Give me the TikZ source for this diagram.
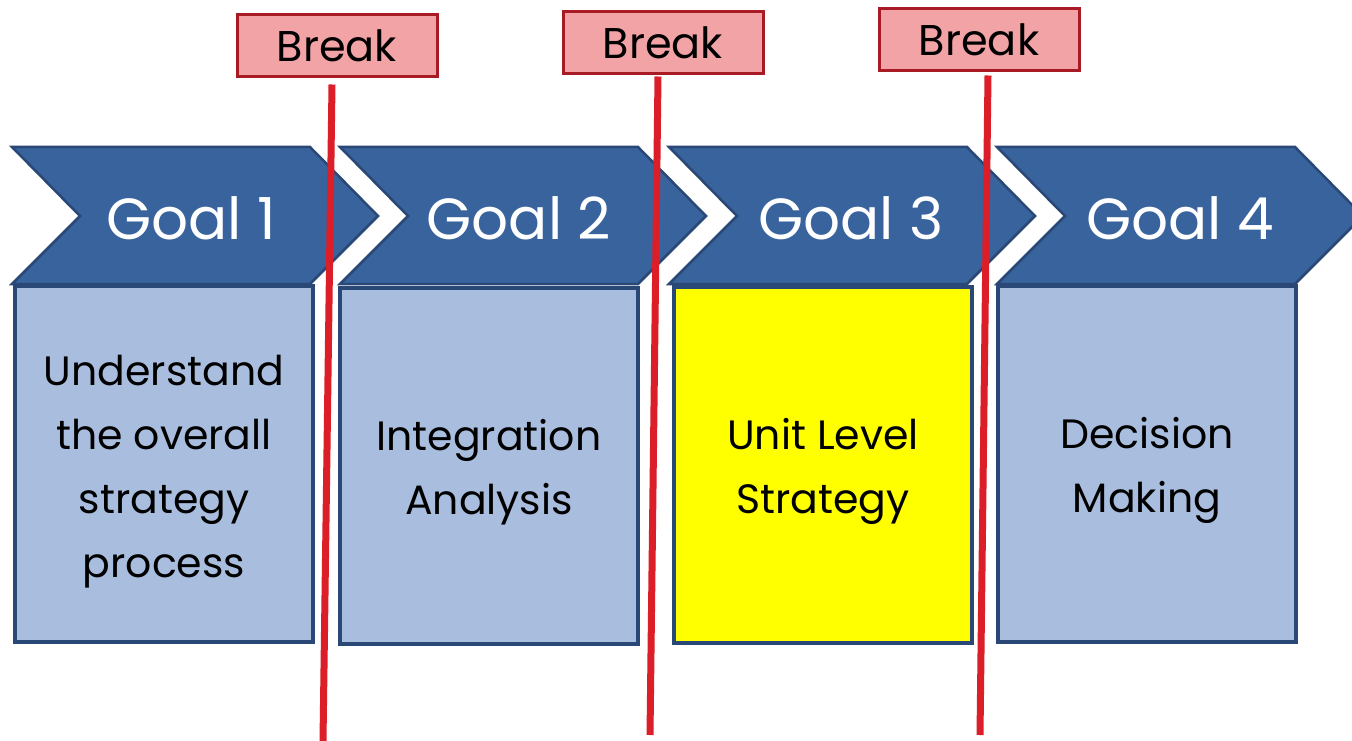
\documentclass[tikz,border=0pt]{standalone}
\usepackage{fontspec}
\setmainfont{Poppins}
\usetikzlibrary{positioning}

\definecolor{goalblue}{RGB}{57,99,157}
\definecolor{goaledge}{RGB}{42,72,117}
\definecolor{taskblue}{RGB}{169,190,222}
\definecolor{nowyellow}{RGB}{255,255,0}
\definecolor{breakfill}{RGB}{242,163,166}
\definecolor{breakedge}{RGB}{168,26,36}
\definecolor{cutred}{RGB}{220,30,40}

\begin{document}
\begin{tikzpicture}[x=1pt, y=-1pt,
    goal/.style={fill=goalblue, draw=goaledge, line width=2.5pt, line join=miter},
    goaltext/.style={text=white, font=\fontsize{58}{64}\selectfont},
    task/.style={draw=goaledge, fill=taskblue, line width=3.5pt, inner sep=0pt,
        minimum width=298pt, minimum height=356pt},
    tasktext/.style={align=center, inner sep=0pt, font=\fontsize{41}{64}\selectfont},
    breakbox/.style={draw=breakedge, fill=breakfill, line width=3pt, inner sep=0pt,
        minimum width=200pt, minimum height=62pt, font=\fontsize{43}{46}\selectfont},
    cut/.style={draw=cutred, line width=7pt}]
    \clip (0,0) rectangle (1352,741);

    % Goal chevrons across the top
    \draw[goal] (12,147) -- ++(298,0) -- ++(68,69) -- ++(-68,68) -- ++(-298,0) -- ++(68,-68) -- cycle;
    \node[goaltext] (goal1) at (191,218) {Goal 1};
    \draw[goal] (340,147) -- ++(298,0) -- ++(68,69) -- ++(-68,68) -- ++(-298,0) -- ++(68,-68) -- cycle;
    \node[goaltext] (goal2) at (519,218) {Goal 2};
    \draw[goal] (669,147) -- ++(298,0) -- ++(68,69) -- ++(-68,68) -- ++(-298,0) -- ++(68,-68) -- cycle;
    \node[goaltext] (goal3) at (851,218) {Goal 3};
    \draw[goal] (997,147) -- ++(298,0) -- ++(68,69) -- ++(-68,68) -- ++(-298,0) -- ++(68,-68) -- cycle;
    \node[goaltext] (goal4) at (1180,218) {Goal 4};

    % Task boxes under each goal (the current one in yellow)
    \node[task] (task1) at (164,464) {};
    \node[task] (task2) at (489,466) {};
    \node[task, fill=nowyellow] (task3) at (823,465) {};
    \node[task] (task4) at (1147,464) {};
    \node[tasktext] (text1) at ([yshift=-8pt]task1.center) {Understand\\the overall\\strategy\\process};
    \node[tasktext] (text2) at ([yshift=-6pt]task2.center) {Integration\\Analysis};
    \node[tasktext] (text3) at ([yshift=-6pt]task3.center) {Unit Level\\Strategy};
    \node[tasktext] (text4) at ([yshift=-6pt]task4.center) {Decision\\Making};

    % Break labels
    \node[breakbox] (brk1) at (337,46) {Break};
    \node[breakbox] (brk2) at (663,43) {Break};
    \node[breakbox] (brk3) at (979,40) {Break};

    % Red cut lines running down from each break
    \coordinate (cut1) at (323,741);
    \coordinate (cut2) at (650,735);
    \coordinate (cut3) at (980,735);
    \draw[cut] ([xshift=-5pt,yshift=-6pt]brk1.south) -- (cut1);
    \draw[cut] ([xshift=-5pt,yshift=-1pt]brk2.south) -- (cut2);
    \draw[cut] ([xshift=9pt,yshift=-3pt]brk3.south) -- (cut3);
\end{tikzpicture}
\end{document}
